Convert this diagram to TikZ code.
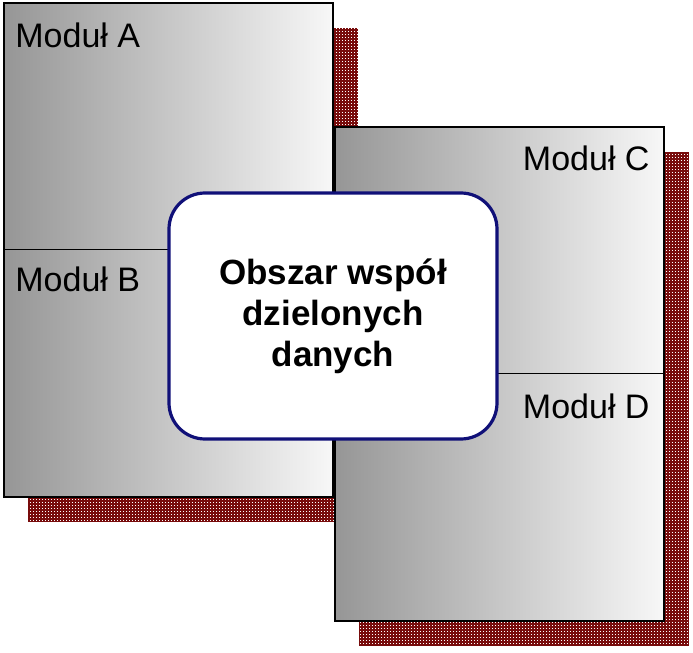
\documentclass[tikz,border=0pt]{standalone}
\usepackage{fontspec}
\setmainfont{Liberation Sans}
\usetikzlibrary{patterns}

\definecolor{shadowred}{RGB}{120,12,12}
\definecolor{boxgray}{RGB}{150,150,150}
\definecolor{boxnavy}{RGB}{16,16,120}

\pgfdeclarepatternformonly{shadowdots}{\pgfpointorigin}{\pgfpoint{1.5pt}{1.5pt}}{\pgfpoint{1.5pt}{1.5pt}}{%
  \pgfpathrectangle{\pgfpointorigin}{\pgfpoint{0.5pt}{0.5pt}}\pgfusepath{fill}}

\tikzset{
  modlabel/.style={inner sep=0pt, font=\fontsize{17}{20}\selectfont},
}

\begin{document}
\begin{tikzpicture}[x=0.5pt,y=-0.5pt]
    \useasboundingbox (0,0) rectangle (693,653);

    % Define corners of the two module blocks
    \coordinate (left) at (4,3);
    \coordinate (right) at (335,127);

    % Draw blocks with their shadows
    \foreach \blk in {left,right} {
        \fill[shadowred] ([shift={(24,25)}]\blk) rectangle ++(330,494);
        \fill[pattern=shadowdots, pattern color=white] ([shift={(24,25)}]\blk) rectangle ++(330,494);
        \fill[left color=boxgray, right color=white!97!black] (\blk) rectangle ++(329,494);
        \draw[line width=0.7pt] (\blk) rectangle ++(329,494);
        \draw[line width=0.4pt] ([shift={(0,246)}]\blk) -- ++(329,0);
    }

    % Draw module labels
    \node[modlabel, anchor=base west] (modA) at (15,47) {Moduł A};
    \node[modlabel, anchor=base west] (modB) at (15,292) {Moduł B};
    \node[modlabel, anchor=base east] (modC) at (650,170) {Moduł C};
    \node[modlabel, anchor=base east] (modD) at (650,418) {Moduł D};

    % Draw shared data area
    \node[draw=boxnavy, fill=white, line width=1.6pt, rounded corners=18pt,
          minimum width=164pt, minimum height=123pt, align=center,
          font=\fontsize{17.5}{20.5}\selectfont\bfseries] (shared) at (333,316)
          {Obszar współ\\dzielonych\\danych};

\end{tikzpicture}
\end{document}
